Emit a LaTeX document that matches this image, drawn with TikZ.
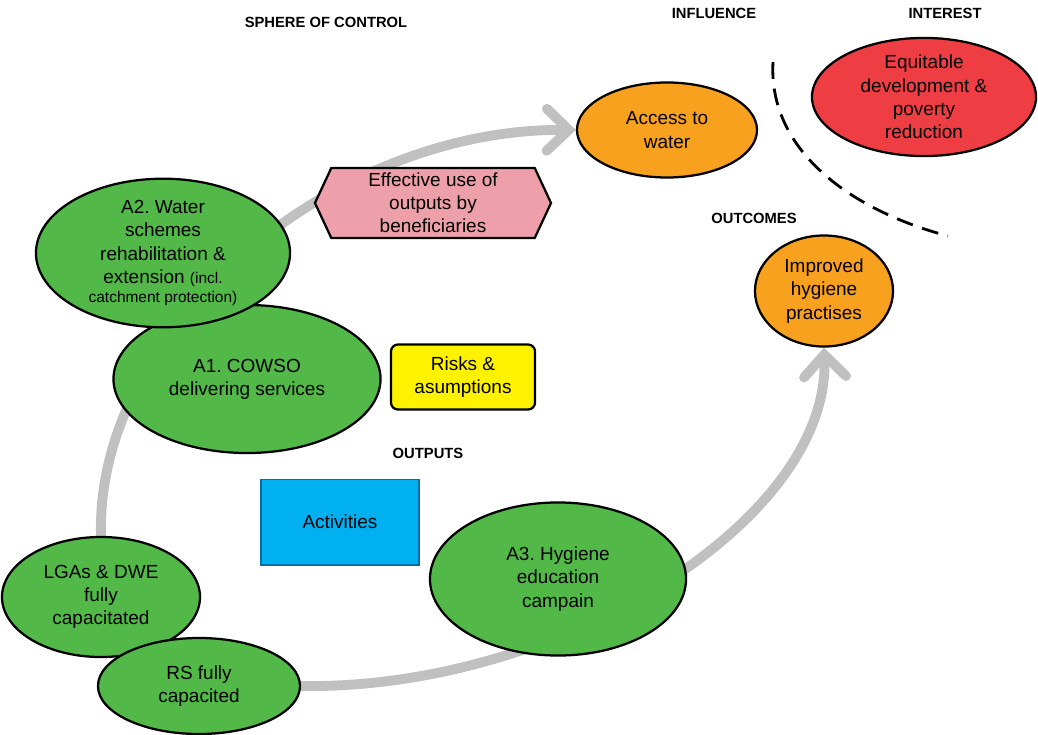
\documentclass[tikz,border=0pt]{standalone}
\usepackage{fontspec}
\setmainfont{Liberation Sans}
\usetikzlibrary{shapes.geometric, shapes.symbols, arrows.meta, backgrounds}

\definecolor{leafgreen}{RGB}{82,184,72}
\definecolor{sunorange}{RGB}{247,161,30}
\definecolor{brickred}{RGB}{238,62,68}
\definecolor{rosepink}{RGB}{238,160,170}
\definecolor{skyblue}{RGB}{0,176,240}
\definecolor{deepblue}{RGB}{0,112,165}
\definecolor{arcgray}{RGB}{192,192,192}

\begin{document}
\begin{tikzpicture}[
    x=0.025cm, y=-0.025cm,
    font=\fontsize{13.5}{16.5}\selectfont,
    oval/.style={
        ellipse,
        draw=black,
        line width=1.6pt,
        inner sep=0pt,
        align=center
    },
    result/.style={oval, fill=leafgreen},
    outcome/.style={oval, fill=sunorange},
    heading/.style={font=\fontsize{10.5}{12}\selectfont\bfseries},
    flow/.style={
        draw=arcgray,
        line width=7pt,
        -{Straight Barb[length=0.55cm, width=1.05cm, line cap=round]}
    }
]
    \useasboundingbox (0,0) rectangle (1038,735);

    % Headings
    \node[heading] (hsoc) at (326,22) {SPHERE OF CONTROL};
    \node[heading] (hinf) at (714,13) {INFLUENCE};
    \node[heading] (hint) at (945,13) {INTEREST};
    \node[heading] (hout) at (754,218) {OUTCOMES};
    \node[heading] (hput) at (428,453) {OUTPUTS};

    % Outcomes and interest
    \node[outcome, minimum width=4.5cm, minimum height=2.375cm] (acc) at (667,130) {Access to\\water};
    \node[oval, fill=brickred, minimum width=5.6cm, minimum height=2.85cm] (equ) at (924,97)
        {Equitable\\development \&\\poverty\\reduction};
    \node[outcome, minimum width=3.45cm, minimum height=2.775cm] (hyg) at (824,291)
        {Improved\\hygiene\\practises};

    % Use of outputs
    \node[signal, signal to=east and west, signal pointer angle=130, draw=black, line width=1.6pt,
          fill=rosepink, minimum width=5.9cm, minimum height=1.75cm, inner sep=0pt, align=center]
        (use) at (433,203) {Effective use of\\outputs by\\beneficiaries};

    % Outputs
    \node[result, minimum width=6.675cm, minimum height=3.7cm] (a1) at (247,379)
        {A1.\ COWSO\\delivering services};
    \node[result, minimum width=6.35cm, minimum height=3.425cm] (a2) at (163,253)
        {A2.\ Water\\schemes\\rehabilitation \&\\extension {\fontsize{11}{13}\selectfont(incl.}\\[-3pt]
         {\fontsize{11}{13}\selectfont catchment protection)}};
    \node[result, minimum width=4.95cm, minimum height=3.0cm] (lga) at (101,597)
        {LGAs \& DWE\\fully\\capacitated};
    \node[result, minimum width=5.05cm, minimum height=2.4cm] (rs) at (199,686)
        {RS fully\\capacited};
    \node[result, minimum width=6.4cm, minimum height=3.825cm] (a3) at (558,579)
        {A3.\ Hygiene\\education\\campain};

    % Boxes
    \node[draw=black, line width=1.6pt, fill=yellow, rounded corners=5pt, minimum width=3.6cm,
          minimum height=1.625cm, inner sep=0pt, align=center] (risk) at (463,377) {Risks \&\\asumptions};
    \node[draw=deepblue, line width=1.4pt, fill=skyblue, minimum width=3.925cm,
          minimum height=2.125cm, inner sep=0pt] (act) at (340,522) {Activities};

    % Pathways
    \begin{scope}[on background layer]
        \draw[flow] (lga.north) .. controls (95,330) and (330,128) .. (acc.west);
        \draw[flow] (rs.east) .. controls (560,690) and (830,520) .. (hyg.south);
        \draw[dashed, line width=2pt, dash pattern=on 12pt off 7pt]
            (773,62) .. controls (768,150) and (850,210) .. (948,236);
    \end{scope}

\end{tikzpicture}
\end{document}
